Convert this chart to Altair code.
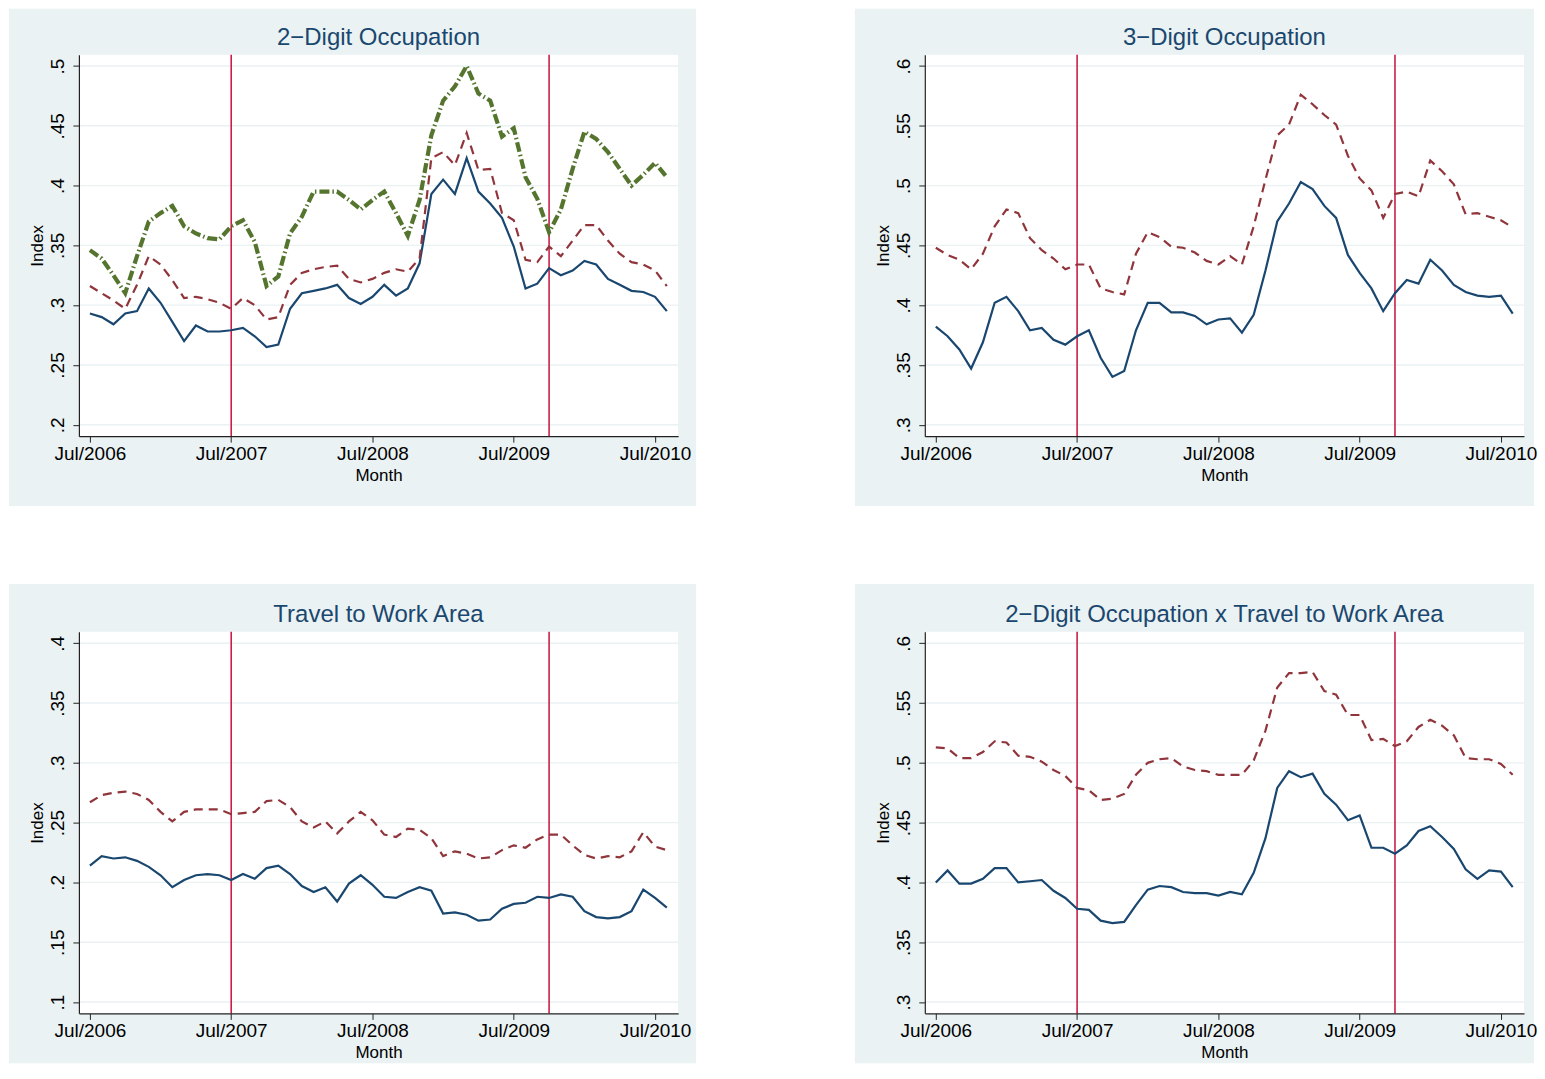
import altair as alt
import pandas as pd

FONT = "Liberation Sans"
BG = "#eaf2f3"
GRID = "#eaf2f3"
NAVY = "#1a476f"
MAROON = "#90353b"
GREEN = "#55752f"
EVENT = "#c8103c"

W, H = 600, 382

months = list(range(50))  # Jul/2006 ... Aug/2010
x_tick_values = [0, 12, 24, 36, 48]
x_tick_labels = ["Jul/2006", "Jul/2007", "Jul/2008", "Jul/2009", "Jul/2010"]
event_months = [12, 39]

titles = [
    "2\u2212Digit Occupation",
    "3\u2212Digit Occupation",
    "Travel to Work Area",
    "2\u2212Digit Occupation x Travel to Work Area",
]

p1_navy = [0.293, 0.290, 0.284, 0.293, 0.295, 0.314, 0.302, 0.286, 0.270, 0.283,
           0.278, 0.278, 0.279, 0.281, 0.274, 0.265, 0.267, 0.297, 0.310, 0.312,
           0.314, 0.317, 0.306, 0.301, 0.307, 0.317, 0.308, 0.314, 0.335, 0.393,
           0.405, 0.393, 0.423, 0.395, 0.385, 0.373, 0.349, 0.314, 0.318, 0.331,
           0.325, 0.329, 0.337, 0.334, 0.322, 0.317, 0.312, 0.311, 0.307, 0.295]
p1_maroon = [0.316, 0.310, 0.304, 0.297, 0.317, 0.341, 0.334, 0.321, 0.306, 0.307,
             0.305, 0.302, 0.297, 0.306, 0.300, 0.288, 0.290, 0.317, 0.327, 0.330,
             0.332, 0.333, 0.322, 0.319, 0.322, 0.327, 0.330, 0.328, 0.339, 0.423,
             0.428, 0.417, 0.444, 0.413, 0.414, 0.377, 0.371, 0.338, 0.336, 0.349,
             0.341, 0.354, 0.367, 0.367, 0.354, 0.343, 0.336, 0.334, 0.329, 0.316]
p1_green = [0.346, 0.339, 0.325, 0.310, 0.341, 0.370, 0.377, 0.383, 0.366, 0.360,
            0.356, 0.355, 0.366, 0.371, 0.353, 0.316, 0.324, 0.360, 0.374, 0.395,
            0.395, 0.395, 0.388, 0.380, 0.388, 0.395, 0.377, 0.358, 0.388, 0.442,
            0.471, 0.483, 0.500, 0.477, 0.471, 0.441, 0.448, 0.407, 0.389, 0.361,
            0.380, 0.414, 0.445, 0.439, 0.428, 0.414, 0.400, 0.409, 0.419, 0.407]

p2_navy = [0.382, 0.374, 0.363, 0.347, 0.369, 0.402, 0.407, 0.395, 0.379, 0.381,
           0.371, 0.367, 0.374, 0.379, 0.356, 0.340, 0.345, 0.379, 0.402, 0.402,
           0.394, 0.394, 0.391, 0.384, 0.388, 0.389, 0.377, 0.392, 0.429, 0.470,
           0.485, 0.503, 0.497, 0.483, 0.473, 0.442, 0.427, 0.414, 0.395, 0.410,
           0.421, 0.418, 0.438, 0.429, 0.417, 0.411, 0.408, 0.407, 0.408, 0.393]
p2_maroon = [0.448, 0.442, 0.438, 0.430, 0.443, 0.466, 0.480, 0.477, 0.456, 0.446,
             0.439, 0.430, 0.434, 0.434, 0.414, 0.411, 0.409, 0.443, 0.461, 0.457,
             0.449, 0.448, 0.444, 0.437, 0.434, 0.441, 0.434, 0.466, 0.505, 0.542,
             0.551, 0.576, 0.568, 0.559, 0.551, 0.525, 0.506, 0.496, 0.473, 0.493,
             0.495, 0.491, 0.521, 0.512, 0.501, 0.476, 0.477, 0.474, 0.471, 0.465]

p3_navy = [0.214, 0.222, 0.220, 0.221, 0.218, 0.213, 0.206, 0.196, 0.202, 0.206,
           0.207, 0.206, 0.202, 0.207, 0.203, 0.212, 0.214, 0.207, 0.197, 0.192,
           0.196, 0.184, 0.199, 0.206, 0.198, 0.188, 0.187, 0.192, 0.196, 0.193,
           0.174, 0.175, 0.173, 0.168, 0.169, 0.178, 0.182, 0.183, 0.188, 0.187,
           0.190, 0.188, 0.176, 0.171, 0.170, 0.171, 0.176, 0.194, 0.187, 0.179]
p3_maroon = [0.267, 0.273, 0.275, 0.276, 0.274, 0.269, 0.259, 0.251, 0.259, 0.261,
             0.261, 0.261, 0.257, 0.258, 0.259, 0.268, 0.269, 0.263, 0.251, 0.246,
             0.251, 0.241, 0.251, 0.259, 0.252, 0.240, 0.238, 0.245, 0.244, 0.237,
             0.222, 0.226, 0.224, 0.220, 0.221, 0.227, 0.231, 0.229, 0.236, 0.240,
             0.240, 0.231, 0.223, 0.220, 0.222, 0.221, 0.226, 0.242, 0.230, 0.227]

p4_navy = [0.400, 0.410, 0.399, 0.399, 0.403, 0.412, 0.412, 0.400, 0.401, 0.402,
           0.393, 0.387, 0.378, 0.377, 0.368, 0.366, 0.367, 0.381, 0.394, 0.397,
           0.396, 0.392, 0.391, 0.391, 0.389, 0.392, 0.390, 0.408, 0.437, 0.479,
           0.493, 0.488, 0.491, 0.474, 0.465, 0.452, 0.456, 0.429, 0.429, 0.424,
           0.431, 0.443, 0.447, 0.438, 0.428, 0.411, 0.403, 0.410, 0.409, 0.396]
p4_maroon = [0.513, 0.512, 0.504, 0.504, 0.509, 0.518, 0.517, 0.506, 0.505, 0.501,
             0.494, 0.489, 0.479, 0.477, 0.469, 0.470, 0.474, 0.490, 0.500, 0.503,
             0.504, 0.497, 0.494, 0.493, 0.490, 0.490, 0.490, 0.502, 0.527, 0.563,
             0.575, 0.575, 0.576, 0.560, 0.557, 0.540, 0.540, 0.519, 0.520, 0.514,
             0.518, 0.530, 0.536, 0.531, 0.523, 0.504, 0.503, 0.503, 0.499, 0.490]

y_ticks_a = [0.2, 0.25, 0.3, 0.35, 0.4, 0.45, 0.5]
y_ticks_b = [0.3, 0.35, 0.4, 0.45, 0.5, 0.55, 0.6]
y_ticks_c = [0.1, 0.15, 0.2, 0.25, 0.3, 0.35, 0.4]

styles = {
    "navy": dict(color=NAVY, strokeWidth=2.2),
    "maroon": dict(color=MAROON, strokeWidth=2.2, strokeDash=[9, 6]),
    "green": dict(color=GREEN, strokeWidth=4.2, strokeDash=[10, 3, 1.5, 3]),
}

x_label_expr = "[" + ",".join("'%s'" % s for s in x_tick_labels) + "][round(datum.value/12)]"


def panel(title, series, yticks, rect_top, rect_bottom, rect_right):
    pad = (yticks[-1] - yticks[0]) * 0.0317
    xs = alt.Scale(domain=[-0.935, 49.96], nice=False, zero=False)
    ys = alt.Scale(domain=[yticks[0] - pad, yticks[-1] + pad], nice=False, zero=False)

    x_axis = alt.Axis(
        values=x_tick_values, labelExpr=x_label_expr, title="Month",
        grid=False, tickSize=6, tickColor="#222", domainColor="#222", domainWidth=1.2,
        labelFont=FONT, labelFontSize=19, labelColor="black", labelPadding=17,
        labelBaseline="alphabetic", labelFlush=False, labelOverlap=False,
        titleFont=FONT, titleFontSize=17, titleFontWeight="normal", titleColor="black",
        titleBaseline="alphabetic", titleY=44, titleX=W / 2, titleAlign="center",
        zindex=1,
    )
    y_axis = alt.Axis(
        values=yticks, labelExpr="replace(format(datum.value, '.2~f'), '0.', '.')",
        title="Index", grid=False, tickSize=6, tickColor="#222", domainColor="#222",
        domainWidth=1.2, labelFont=FONT, labelFontSize=19, labelColor="black",
        labelAngle=270, labelAlign="center", labelBaseline="alphabetic", labelPadding=9,
        labelFlush=False, labelOverlap=False,
        titleFont=FONT, titleFontSize=17, titleFontWeight="normal", titleColor="black",
        titleAngle=270, titleBaseline="alphabetic", titleAlign="center",
        titleX=-36, titleY=H / 2,
        zindex=1,
    )

    one = pd.DataFrame({"k": [0]})
    bg = alt.Chart(one).mark_rect(color=BG).encode(
        x=alt.value(-70), x2=alt.value(W + rect_right), y=alt.value(rect_top), y2=alt.value(H + rect_bottom)
    )
    white = alt.Chart(one).mark_rect(color="white").encode(
        x=alt.value(0), x2=alt.value(W), y=alt.value(0), y2=alt.value(H)
    )
    head = alt.Chart(pd.DataFrame({"t": [title]})).mark_text(
        font=FONT, fontSize=24, color=NAVY, align="center", baseline="alphabetic"
    ).encode(text="t:N", x=alt.value(W / 2), y=alt.value(-9.5))
    grid = alt.Chart(pd.DataFrame({"tick": yticks})).mark_rule(color=GRID, strokeWidth=1.4).encode(
        y=alt.Y("tick:Q", scale=ys, axis=y_axis)
    )
    events = alt.Chart(pd.DataFrame({"m": event_months})).mark_rule(color=EVENT, strokeWidth=1.5).encode(
        x=alt.X("m:Q", scale=xs, axis=x_axis)
    )
    layers = [bg, white, head, grid, events]
    for name, vals in series:
        df = pd.DataFrame({"month": months, "value": vals})
        layers.append(
            alt.Chart(df).mark_line(**styles[name]).encode(
                x=alt.X("month:Q", scale=xs, axis=x_axis),
                y=alt.Y("value:Q", scale=ys, axis=y_axis),
            )
        )
    return alt.layer(*layers).properties(width=W, height=H)


c1 = panel(titles[0], [("navy", p1_navy), ("maroon", p1_maroon), ("green", p1_green)], y_ticks_a, -46, 70, 18)
c2 = panel(titles[1], [("navy", p2_navy), ("maroon", p2_maroon)], y_ticks_b, -46, 70, 10)
c3 = panel(titles[2], [("navy", p3_navy), ("maroon", p3_maroon)], y_ticks_c, -48, 50, 18)
c4 = panel(titles[3], [("navy", p4_navy), ("maroon", p4_maroon)], y_ticks_b, -48, 50, 10)

chart = alt.vconcat(
    alt.hconcat(c1, c2, spacing=159),
    alt.hconcat(c3, c4, spacing=159),
    spacing=78,
).properties(
    padding={"left": 1, "top": 0, "right": 0, "bottom": 0},
    background="white",
).configure_view(strokeWidth=0)

chart.save("out.html", embed_options={"renderer": "svg", "actions": False})
